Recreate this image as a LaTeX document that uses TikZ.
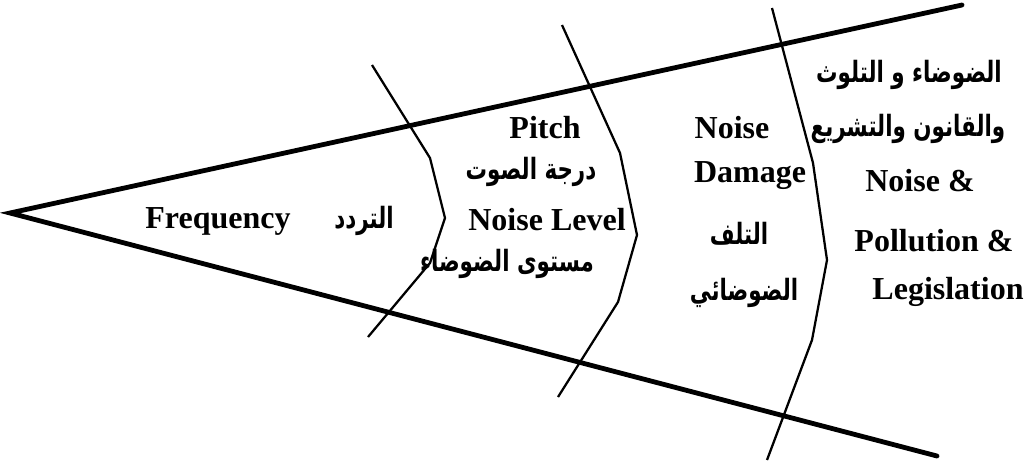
\documentclass[tikz,border=0pt]{standalone}
\usepackage{fontspec}
\usepackage{tikz}
\usetikzlibrary{positioning}
\setmainfont{Liberation Serif}
\newfontfamily\arabicfont[Script=Arabic,FakeStretch=0.73]{DejaVu Sans}
\TeXXeTstate=1
\definecolor{ink}{HTML}{000000}
\tikzset{
  wedge/.style={draw=ink,line width=3.6pt,line cap=round},
  divider/.style={draw=ink,line width=1.7pt,line join=miter},
  entxt/.style={font=\fontsize{24}{28}\selectfont\bfseries,text=ink,inner sep=0pt},
  artxt/.style={font=\arabicfont\fontsize{22}{26}\selectfont\bfseries,text=ink,inner sep=0pt}
}

\begin{document}
\begin{tikzpicture}[x=0.75pt,y=-0.75pt]
  \useasboundingbox (0,0) rectangle (1031,465);
  % wedge: apex and the two long sides
  \coordinate (apex) at (10,213);
  \coordinate (topend) at (962,5);
  \coordinate (botend) at (937,456);
  \draw[wedge] (topend)--(apex)--(botend);

  % the three bent cross lines
  \draw[divider] (372,65)--(430,158)--(445,218)--(430,263)--(368,337);
  \draw[divider] (562,25)--(620,153)--(637,235)--(618,302)--(558,397);
  \draw[divider] (772,8)--(813,163)--(827,260)--(812,340)--(767,460);

  % first band
  \node[entxt] (freq) at (218,221) {Frequency};
  \node[artxt] (freqar) at (364,221) {\beginR التردد\endR};

  % second band
  \node[entxt] (pitch) at (545,128) {Pitch};
  \node[artxt] (pitchar) at (531,172) {\beginR درجة الصوت\endR};
  \node[entxt] (level) at (547,220) {Noise Level};
  \node[artxt] (levelar) at (507,264) {\beginR مستوى الضوضاء\endR};

  % third band
  \node[entxt] (noise) at (732,128) {Noise};
  \node[entxt] (damage) at (750,176) {Damage};
  \node[artxt] (damagear) at (739,234) {\beginR التلف\endR};
  \node[artxt] (damagear2) at (744,293) {\beginR الضوضائي\endR};

  % last band
  \node[artxt] (lawar) at (909,75) {\beginR الضوضاء و التلوث\endR};
  \node[artxt] (lawar2) at (908,129) {\beginR والقانون والتشريع\endR};
  \node[entxt] (law1) at (920,181) {Noise \&};
  \node[entxt] (law2) at (934,241) {Pollution \&};
  \node[entxt] (law3) at (948,292) {Legislation};
\end{tikzpicture}
\end{document}
